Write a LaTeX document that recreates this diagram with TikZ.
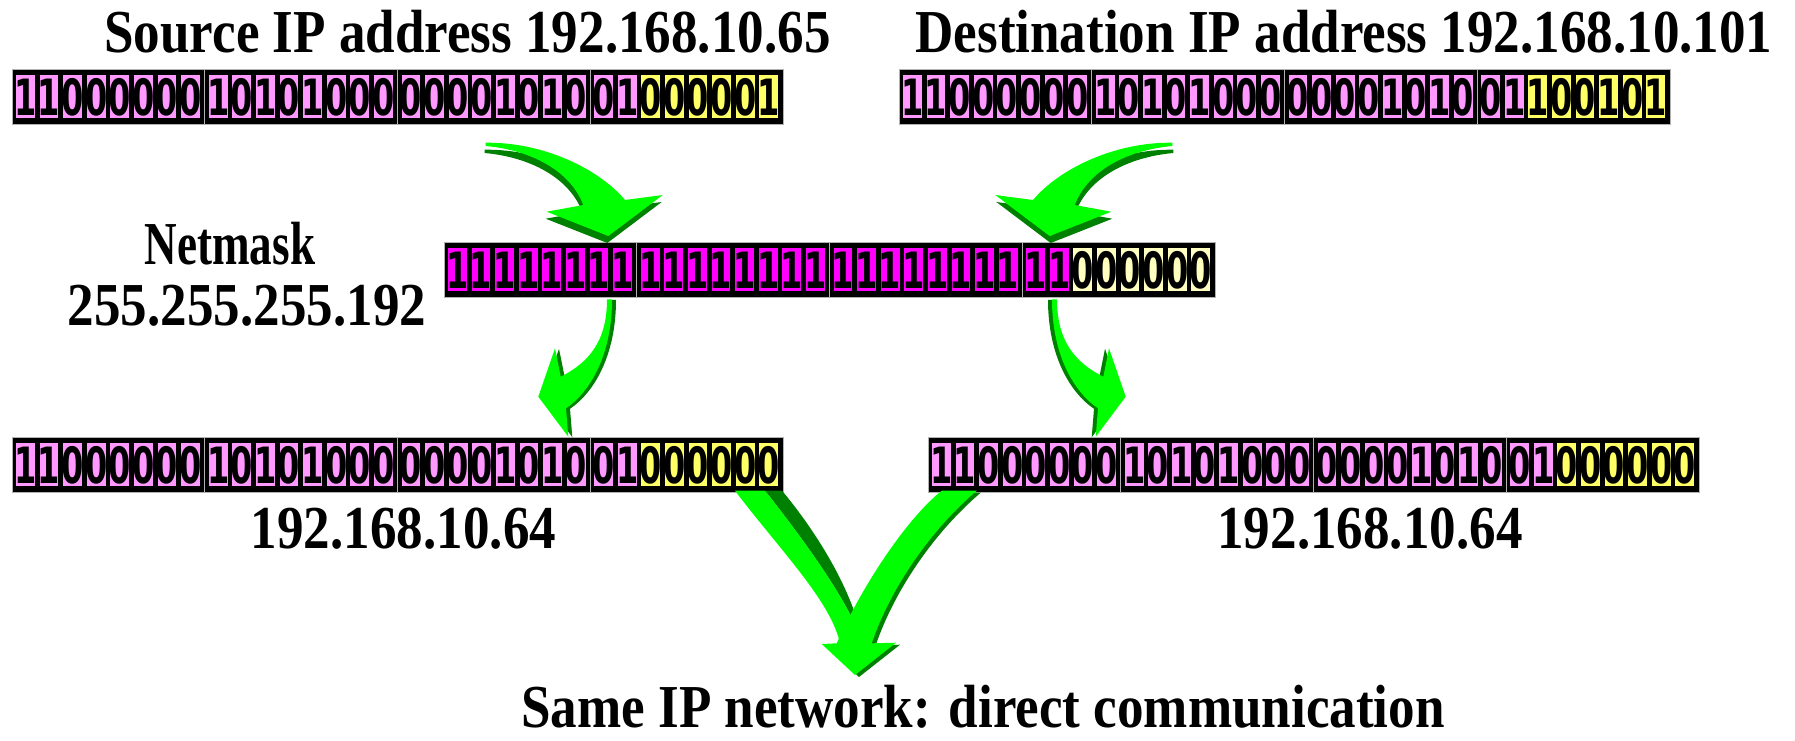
\documentclass[tikz,border=0pt]{standalone}
\usepackage{fontspec}
\newfontfamily\labfont{Liberation Serif}[FakeStretch=0.87]
\newfontfamily\bitfont{DejaVu Sans}[FakeStretch=0.64]
\definecolor{pinkbit}{HTML}{FF99FF}
\definecolor{yelbit}{HTML}{FFFF66}
\definecolor{magbit}{HTML}{FF00FF}
\definecolor{paleyel}{HTML}{FFFFC0}
\definecolor{agreen}{HTML}{00FF00}
\definecolor{adark}{HTML}{008000}
\tikzset{
  lab/.style={font=\labfont\bfseries\fontsize{61}{61}\selectfont, inner sep=0pt, anchor=base},
  bitdigit/.style={inner sep=0pt, anchor=center,
    font=\bitfont\bfseries\fontsize{50}{50}\selectfont, text=black},
  octet/.style={fill=black, draw=gray!60, line width=1pt},
}
% #1 name, #2 x, #3 y, #4 bits, #5 prefix colour, #6 suffix colour
\newcommand\bitrow[6]{%
  \foreach \o in {0,1,2,3}{
    \path[octet] (#2+\o*192.75, #3) rectangle ++(192.75,55);
  }
  \foreach \b [count=\i from 0] in {#4}{
    \pgfmathtruncatemacro\oc{int(\i/8)}
    \pgfmathtruncatemacro\jj{mod(\i,8)}
    \ifnum\i<26 \def\cc{#5}\else\def\cc{#6}\fi
    \fill[\cc] (#2+\oc*192.75+4+\jj*23.6, #3+6) rectangle ++(18.8,43);
    \node[bitdigit] (#1-\i) at (#2+\oc*192.75+13.4+\jj*23.6, #3+28.5) {\b};
  }
}
\newcommand\arrowAface[1]{%
  \fill[#1] (485.7,142.7) .. controls (545,142) and (600,170) .. (625,200)
    -- (662.7,195) -- (608.3,236) -- (546.7,211.7) -- (583.3,205)
    .. controls (570,170) and (530,150) .. (485.7,146) -- cycle;}
\newcommand\arrowBface[1]{%
  \fill[#1] (607,299.3) .. controls (607,340) and (590,362) .. (560.7,376.7)
    -- (555,348.3) -- (538.3,396.7) -- (568.3,436.7) -- (566,408.3)
    .. controls (590,392) and (612,355) .. (612,299.3) -- cycle;}
\begin{document}
\begin{tikzpicture}[x=1pt,y=-1pt]
\useasboundingbox (0,0) rectangle (1795,740);

\bitrow{src}{12}{69}{1,1,0,0,0,0,0,0,1,0,1,0,1,0,0,0,0,0,0,0,1,0,1,0,0,1,0,0,0,0,0,1}{pinkbit}{yelbit}
\bitrow{dst}{899}{69}{1,1,0,0,0,0,0,0,1,0,1,0,1,0,0,0,0,0,0,0,1,0,1,0,0,1,1,0,0,1,0,1}{pinkbit}{yelbit}
\bitrow{msk}{444}{242}{1,1,1,1,1,1,1,1,1,1,1,1,1,1,1,1,1,1,1,1,1,1,1,1,1,1,0,0,0,0,0,0}{magbit}{paleyel}
\bitrow{rl}{12}{437}{1,1,0,0,0,0,0,0,1,0,1,0,1,0,0,0,0,0,0,0,1,0,1,0,0,1,0,0,0,0,0,0}{pinkbit}{yelbit}
\bitrow{rr}{928}{437}{1,1,0,0,0,0,0,0,1,0,1,0,1,0,0,0,0,0,0,0,1,0,1,0,0,1,0,0,0,0,0,0}{pinkbit}{yelbit}

% top arrows
\arrowAface{adark, shift={(-1,7)}}
\arrowAface{agreen}
\begin{scope}[shift={(1658,0)}, xscale=-1]
  \arrowAface{adark, shift={(-1,7)}}
  \arrowAface{agreen}
\end{scope}
% middle arrows
\arrowBface{adark, shift={(4,0.5)}}
\arrowBface{agreen}
\begin{scope}[shift={(1664,0)}, xscale=-1]
  \arrowBface{adark, shift={(4,0.5)}}
  \arrowBface{agreen}
\end{scope}
% bottom V
\fill[adark] (765,490.7) -- (782,490.7) .. controls (815,530) and (845,580) .. (857,620)
  -- (855,625) .. controls (840,590) and (800,535) .. (765,490.7) -- cycle;
\fill[agreen] (735,490.7) .. controls (780,550) and (830,600) .. (840,643)
  -- (855,625) .. controls (840,590) and (800,535) .. (765,490.7) -- cycle;
\fill[adark, shift={(4,2)}] (941.7,490.7) .. controls (905,520) and (860,590) .. (836.7,643.3)
  -- (821.7,644) -- (855,675) -- (896,642.7) -- (871.7,643.3)
  .. controls (888,595) and (925,535) .. (976.7,490.7) -- cycle;
\fill[agreen] (941.7,490.7) .. controls (905,520) and (860,590) .. (836.7,643.3)
  -- (821.7,644) -- (855,675) -- (896,642.7) -- (871.7,643.3)
  .. controls (888,595) and (925,535) .. (976.7,490.7) -- cycle;

% labels
\node[lab] (tsrc) at (467.5,52) {Source IP address 192.168.10.65};
\node[lab] (tdst) at (1344,52) {Destination IP address 192.168.10.101};
\node[lab] (tnm) at (230,264) {\scalebox{0.85}[1]{Netmask}};
\node[lab] (tnmv) at (247,325) {255.255.255.192};
\node[lab] (tn1) at (403.5,548) {192.168.10.64};
\node[lab] (tn2) at (1370,548) {192.168.10.64};
\node[lab] (tsame) at (983,727) {Same IP network: direct communication};
\end{tikzpicture}
\end{document}
